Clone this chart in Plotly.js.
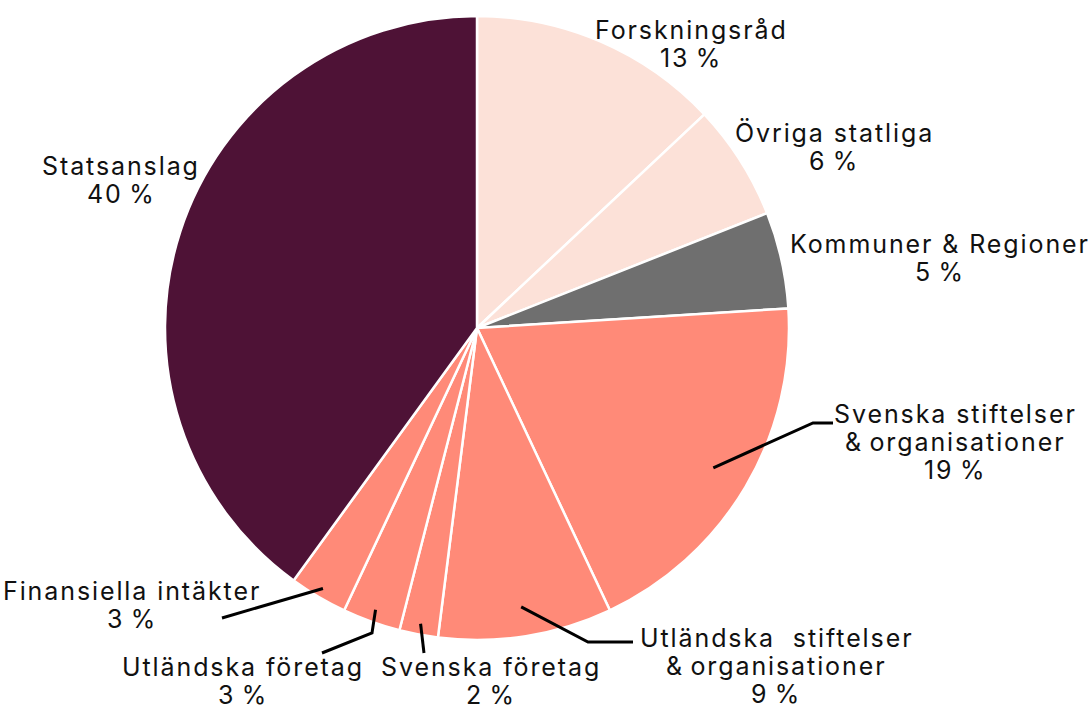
<!DOCTYPE html>
<html>
<head>
<meta charset="utf-8">
<script src="https://cdn.plot.ly/plotly-3.0.1.min.js"></script>
<style>html,body{margin:0;padding:0;background:#fff;}#chart{width:1091px;height:711px;}
svg text{letter-spacing:1.9px;}</style>
</head>
<body>
<div id="chart"></div>
<script>
// ---- data ----
const categories = ["Forskningsråd", "Övriga statliga", "Kommuner & Regioner",
  "Svenska stiftelser & organisationer", "Utländska stiftelser & organisationer",
  "Svenska företag", "Utländska företag", "Finansiella intäkter", "Statsanslag"];
const labelLines = [["Forskningsråd"], ["Övriga statliga"], ["Kommuner & Regioner"],
  ["Svenska stiftelser", "&\u2009organisationer"], ["Utländska  stiftelser", "&\u2009organisationer"],
  ["Svenska företag"], ["Utländska företag"], ["Finansiella intäkter"], ["Statsanslag"]];
const values = [13, 6, 5, 19, 9, 2, 3, 3, 40];
const colors = ["#fce1d8", "#fce1d8", "#6f6f6f", "#ff8a78", "#ff8a78",
  "#ff8a78", "#ff8a78", "#ff8a78", "#4e1236"];

// ---- layout geometry (pixels) ----
const W = 1091, H = 711;
const cx = 477, cy = 328, R = 312;
const lineGap = [28, 28, 28, 28, 28, 27.5, 27.5, 28, 28];
// centre of first label line for each slice
const labelPos = [[691, 30], [834, 133], [940, 244], [955, 414], [776, 638],
  [491, 667], [243, 667], [132, 591], [121, 166]];
// leader: [radius fraction of anchor, list of further points]
const leaders = [null, null, null,
  [0.88, [[813, 423], [833, 423]]],
  [0.905, [[588, 642], [633, 642]]],
  [0.965, [[424, 653]]],
  [0.96, [[372, 633], [322, 653]]],
  [0.97, [[222, 618]]],
  null];

const px = x => x / W, py = y => 1 - y / H;
const total = values.reduce((a, b) => a + b, 0);
let cum = 0;
const annotations = [], shapes = [];
values.forEach((v, i) => {
  const mid = (cum + v / 2) / total * 2 * Math.PI;
  cum += v;
  const lines = labelLines[i].concat([v + "\u2009%"]);
  lines.forEach((t, k) => {
    annotations.push({
      x: px(labelPos[i][0]), y: py(labelPos[i][1] + k * lineGap[i]), xref: "paper", yref: "paper",
      text: t, showarrow: false, align: "center",
      xanchor: "center", yanchor: "middle", borderpad: 0,
      font: {family: "Inter, 'DejaVu Sans', sans-serif", size: 25, color: "#111"}
    });
  });
  if (leaders[i]) {
    const f = leaders[i][0];
    const ax = cx + f * R * Math.sin(mid), ay = cy - f * R * Math.cos(mid);
    let path = "M " + px(ax) + "," + py(ay);
    leaders[i][1].forEach(p => { path += " L " + px(p[0]) + "," + py(p[1]); });
    shapes.push({type: "path", xref: "paper", yref: "paper", path: path,
      line: {color: "#000", width: 3}});
  }
});

const trace = {
  type: "pie", labels: categories, values: values, sort: false,
  direction: "clockwise", rotation: 0, textinfo: "none", hoverinfo: "label+percent",
  marker: {colors: colors, line: {color: "#ffffff", width: 2.5}},
  domain: {x: [(cx - R) / W, (cx + R) / W], y: [1 - (cy + R) / H, 1 - (cy - R) / H]},
  showlegend: false
};
const layout = {
  width: W, height: H, margin: {l: 0, r: 0, t: 0, b: 0},
  paper_bgcolor: "#fff", showlegend: false,
  annotations: annotations, shapes: shapes
};
Plotly.newPlot("chart", [trace], layout, {displayModeBar: false, staticPlot: true});
</script>
</body>
</html>
